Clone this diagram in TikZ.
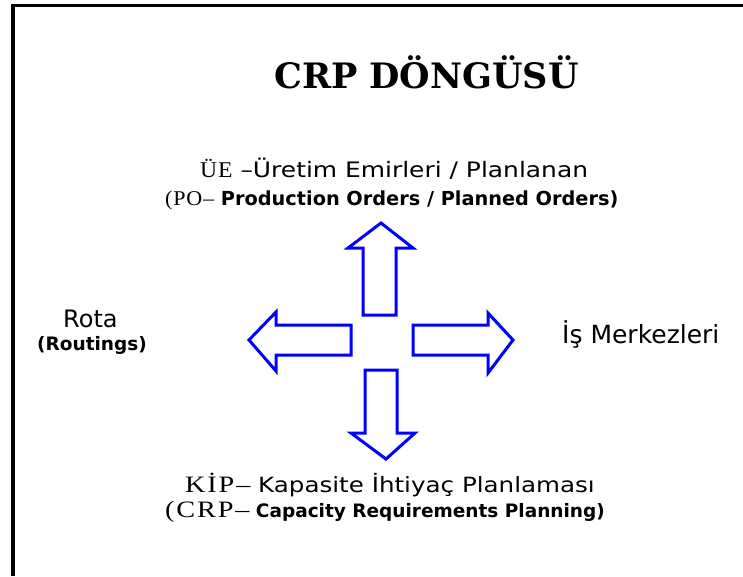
\documentclass[tikz,border=0pt]{standalone}
\usepackage{fontspec}
\setmainfont{DejaVu Sans}
\newfontfamily\headfont{DejaVu Serif}
\newfontfamily\codefont[FakeStretch=1.2,LetterSpace=8]{Liberation Serif}
\newfontfamily\tightcode[FakeStretch=1.05,LetterSpace=4]{Liberation Serif}
\newfontfamily\widesans[FakeStretch=1.17]{DejaVu Sans}
\newfontfamily\boldsans{DejaVu Sans}
\newcommand\fs[1]{\fontsize{#1}{#1}\selectfont}
\begin{document}
\begin{tikzpicture}[x=1pt,y=-1pt,
  blockarrow/.style={draw=blue,line width=3pt,fill=white,line join=miter},
  frameline/.style={black,line width=3.5pt},
  lbl/.style={inner sep=0pt,anchor=base west}]
\useasboundingbox (0,0) rectangle (743,576);
% frame: top and left edges only
\draw[frameline] (13,576) -- (13,5.5) -- (743,5.5);

% title
\node[lbl] (title) at (274,88) {\headfont\bfseries\fs{35}CRP DÖNGÜSÜ};

% upper label
\node[lbl] (po1) at (200,177) {{\tightcode\fs{22.5}ÜE}{\widesans\fs{21.3} –Üretim Emirleri / Planlanan}};
\node[lbl] (po2) at (165,205) {{\tightcode\fs{21}(PO–}{\boldsans\bfseries\fs{19.3} Production Orders / Planned Orders)}};

% side labels
\node[lbl] (rota1) at (63,327) {\fs{24}Rota};
\node[lbl] (rota2) at (37,350) {\bfseries\fs{18.5}(Routings)};
\node[lbl] (wc) at (562,343) {\fs{25}İş Merkezleri};

% lower label
\node[lbl] (crp1) at (185,492) {{\codefont\fs{23.5}KİP–}{\widesans\fs{21} Kapasite İhtiyaç Planlaması}};
\node[lbl] (crp2) at (165,517) {{\codefont\fs{23.5}(CRP–}{\boldsans\bfseries\fs{18.5} Capacity Requirements Planning)}};

% four block arrows pointing out from the centre
\draw[blockarrow] (363,315) -- (363,248) -- (348,248) -- (381,223) -- (413,248) -- (396,248) -- (396,315) -- cycle;
\draw[blockarrow] (351,325) -- (276,325) -- (276,312) -- (249,340) -- (276,371) -- (276,355) -- (351,355) -- cycle;
\draw[blockarrow] (413,325) -- (488,325) -- (488,313) -- (513,340) -- (488,373) -- (488,355) -- (413,355) -- cycle;
\draw[blockarrow] (365,370) -- (397,370) -- (397,433) -- (415,433) -- (386,459) -- (351,433) -- (365,433) -- cycle;
\end{tikzpicture}
\end{document}
